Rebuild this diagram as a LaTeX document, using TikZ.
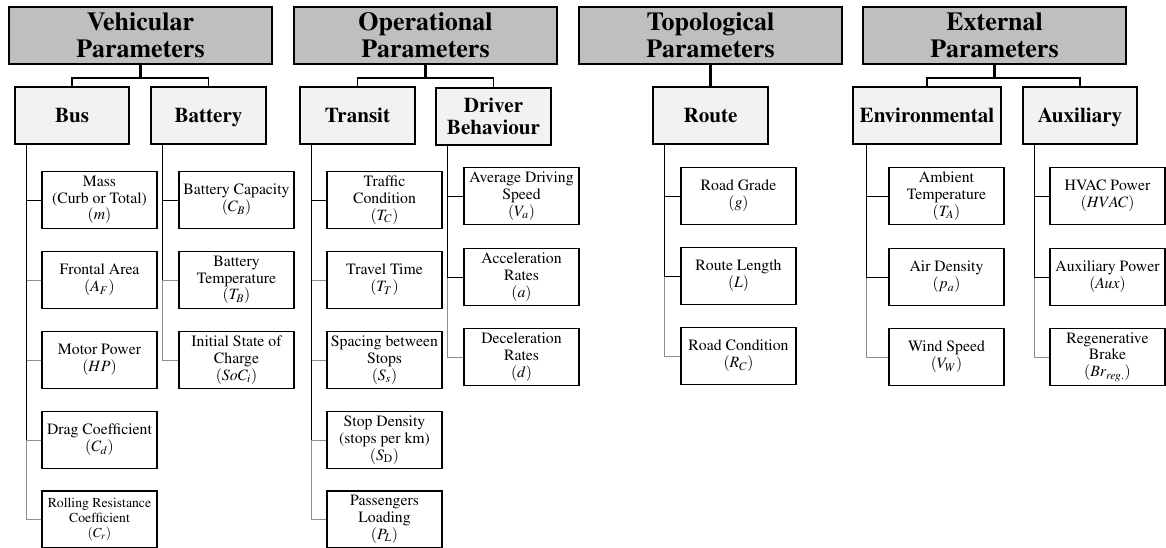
\documentclass[tikz,border=0pt]{standalone}
\usepackage[T1]{fontenc}
\usepackage{mathptmx}
\usetikzlibrary{positioning,calc}
\definecolor{headgray}{RGB}{191,191,191}
\definecolor{subgray}{RGB}{242,242,242}
\definecolor{linkgray}{RGB}{140,140,140}

\begin{document}
\begin{tikzpicture}[x=0.75pt, y=-0.75pt,
    head/.style={draw, line width=1.3pt, fill=headgray, minimum width=197.25pt, minimum height=42.75pt,
        align=center, inner sep=1pt, font=\fontsize{19.5}{20.5}\selectfont\bfseries},
    sub/.style={draw, line width=1.3pt, fill=subgray, minimum width=86.25pt, minimum height=42.75pt,
        align=center, inner sep=1pt, font=\fontsize{15.8}{16.5}\selectfont\bfseries},
    subone/.style={sub, text depth=0pt},
    leaf/.style={draw, line width=1.3pt, fill=white, minimum width=86.25pt, minimum height=42.75pt,
        align=center, inner sep=1pt, font=\fontsize{11.8}{12.6}\selectfont},
    leafsmall/.style={leaf, font=\fontsize{10.3}{11}\selectfont},
    link/.style={line width=0.6pt},
    linkg/.style={link, draw=linkgray},
    hlink/.style={line width=1.3pt},
    stem/.style={line width=2.2pt}]
\useasboundingbox (0,0) rectangle (1166,548);

% headers
\node[head] (veh) at (140.5,35.5) {Vehicular\\Parameters};
\node[head] (ops) at (425.5,35.5) {Operational\\Parameters};
\node[head] (topo) at (710.5,35.5) {Topological\\Parameters};
\node[head] (ext) at (994.5,35.5) {External\\Parameters};

% groups
\node[subone, minimum width=85.5pt] (bus) at (72,115.5) {Bus};
\node[subone] (battery) at (208.5,115.5) {Battery};
\node[subone] (transit) at (357.5,115.5) {Transit};
\node[sub] (driver) at (493.5,116.5) {Driver\\Behaviour};
\node[subone] (route) at (710.5,115.5) {Route};
\node[subone, minimum width=111pt] (env) at (927,115.5) {Environmental};
\node[subone, minimum width=85.5pt] (aux) at (1080,115.5) {Auxiliary};

\draw[hlink] (veh.south) -- ++(0,13) -| (bus.north);
\draw[hlink] (veh.south) -- ++(0,13) -| (battery.north);
\draw[hlink] (ops.south) -- ++(0,13) -| (transit.north);
\draw[hlink] (ops.south) -- ++(0,13) -| (driver.north);
\draw[hlink] (ext.south) -- ++(0,13) -| (env.north);
\draw[hlink] (ext.south) -- ++(0,13) -| (aux.north);
\draw[stem] (veh.south) -- ++(0,13);
\draw[stem] (ops.south) -- ++(0,13);
\draw[stem] (ext.south) -- ++(0,13);
\draw[stem] (topo.south) -- (route.north);

% vehicular
\node[leaf] (mass) at (99.5,200) {Mass\\(Curb or Total)\\$(m)$};
\node[leaf] (frontal) at (99.5,280) {Frontal Area\\$(A_F)$};
\node[leaf] (motor) at (99.5,360) {Motor Power\\$(HP)$};
\node[leaf] (drag) at (99.5,440) {Drag Coefficient\\$(C_d)$};
\node[leafsmall] (rolling) at (99.5,519.5) {Rolling Resistance\\Coefficient\\$(C_r)$};

\node[leaf] (capacity) at (236.5,200) {Battery Capacity\\$(C_B)$};
\node[leaf] (battemp) at (236.5,280) {Battery\\Temperature\\$(T_B)$};
\node[leaf] (soc) at (236.5,360) {Initial State of\\Charge\\$(SoC_i)$};

% operational
\node[leaf] (traffic) at (384.5,200) {Traffic\\Condition\\$(T_C)$};
\node[leaf] (travel) at (384.5,280) {Travel Time\\$(T_T)$};
\node[leaf] (spacing) at (384.5,360) {Spacing between\\Stops\\$(S_s)$};
\node[leaf] (density) at (384.5,440) {Stop Density\\(stops per km)\\$(S_{\mathrm{D}})$};
\node[leaf] (loading) at (384.5,519.5) {Passengers\\Loading\\$(P_L)$};

\node[leaf] (speed) at (521.5,196) {Average Driving\\Speed\\$(V_a)$};
\node[leaf] (accel) at (521.5,277) {Acceleration\\Rates\\$(a)$};
\node[leaf] (decel) at (521.5,357) {Deceleration\\Rates\\$(d)$};

% topological
\node[leaf] (grade) at (738.5,196) {Road Grade\\$(g)$};
\node[leaf] (length) at (738.5,276) {Route Length\\$(L)$};
\node[leaf] (condition) at (738.5,356) {Road Condition\\$(R_C)$};

% external
\node[leaf] (ambient) at (946.5,196) {Ambient\\Temperature\\$(T_A)$};
\node[leaf] (air) at (946.5,277) {Air Density\\$(p_a)$};
\node[leaf] (wind) at (946.5,357) {Wind Speed\\$(V_W)$};

\node[leaf] (hvac) at (1107.5,196) {HVAC Power\\$(HVAC)$};
\node[leaf] (auxpow) at (1107.5,277) {Auxiliary Power\\$(Aux)$};
\node[leaf] (regen) at (1107.5,357) {Regenerative\\Brake\\$(Br_{reg.})$};

% trunks
\coordinate (busT) at ([xshift=9pt]bus.south west);
\coordinate (batT) at ([xshift=9.5pt]battery.south west);
\coordinate (traT) at ([xshift=9pt]transit.south west);
\coordinate (drvT) at ([xshift=9pt]driver.south west);
\coordinate (rteT) at ([xshift=9.5pt]route.south west);
\coordinate (envT) at ([xshift=10.5pt]env.south west);
\coordinate (auxT) at ([xshift=9pt]aux.south west);

\foreach \c in {frontal,motor,drag,rolling} \draw[linkg] (busT) |- (\c.west);
\foreach \c in {battemp,soc} \draw[linkg] (batT) |- (\c.west);
\foreach \c in {travel,spacing,density,loading} \draw[linkg] (traT) |- (\c.west);
\draw[linkg] (drvT) |- (decel.west);
\draw[linkg] (rteT) |- (condition.west);
\draw[linkg] (envT) |- (wind.west);
\draw[linkg] (auxT) |- (regen.west);

\draw[link] (busT) |- (mass.west);
\draw[link] (busT) -- (busT |- drag.west);
\draw[link] (batT) |- (capacity.west);
\draw[link] (batT) -- (batT |- battemp.west);
\draw[link] (traT) |- (traffic.west);
\draw[link] (traT) -- (traT |- density.west);
\foreach \c in {speed,accel} \draw[link] (drvT) |- (\c.west);
\foreach \c in {grade,length} \draw[link] (rteT) |- (\c.west);
\foreach \c in {ambient,air} \draw[link] (envT) |- (\c.west);
\foreach \c in {hvac,auxpow} \draw[link] (auxT) |- (\c.west);
\end{tikzpicture}
\end{document}
